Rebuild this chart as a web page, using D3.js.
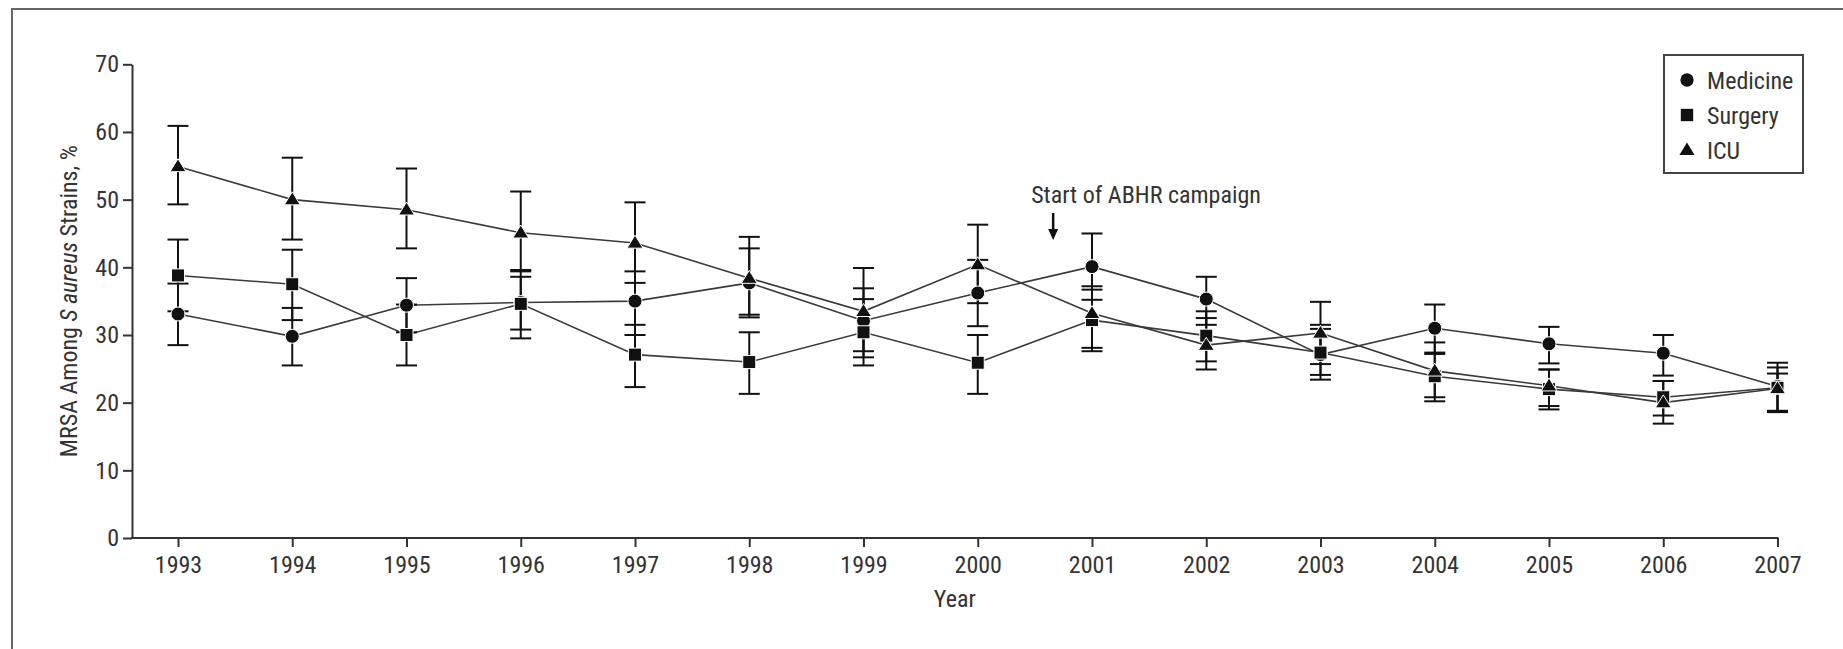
<!DOCTYPE html>
<html><head><meta charset="utf-8">
<script src="https://cdn.jsdelivr.net/npm/d3@7/dist/d3.min.js"></script>
<style>
body{margin:0;background:#fff}
svg{display:block}
text{font-family:"Liberation Sans Narrow","Arial Narrow","Roboto Condensed","Liberation Sans",sans-serif;fill:#333;font-size:24px}
</style>
</head><body>
<svg id="c" width="1843" height="649"></svg>
<script>
// ---- data ----
const years = [1993,1994,1995,1996,1997,1998,1999,2000,2001,2002,2003,2004,2005,2006,2007];
const yTicks = [0,10,20,30,40,50,60,70];
const seriesNames = ["Medicine","Surgery","ICU"];
const medicine   = [33.1,29.8,34.4,34.8,35.0,37.7,32.1,36.2,40.1,35.3,27.1,31.0,28.7,27.3,22.4];
const medicineLo = [28.5,25.5,30.4,30.8,30.0,32.6,27.6,31.3,35.2,31.5,23.4,27.2,25.8,24.0,18.8];
const medicineHi = [37.6,34.0,38.4,38.6,39.4,42.8,36.9,41.1,45.0,38.6,31.5,34.5,31.2,30.0,25.9];
const surgery    = [38.8,37.5,30.0,34.6,27.1,26.0,30.4,25.9,32.2,29.9,27.4,23.9,22.0,20.8,22.2];
const surgeryLo  = [33.5,32.2,25.5,29.5,22.3,21.3,25.5,21.3,27.6,26.1,24.1,20.2,19.0,18.1,18.7];
const surgeryHi  = [44.1,42.6,34.5,39.6,31.5,30.4,35.3,30.0,36.7,33.5,30.9,27.4,24.9,23.2,25.2];
const icu        = [54.9,50.0,48.5,45.1,43.6,38.4,33.5,40.4,33.2,28.5,30.3,24.7,22.5,20.0,22.1];
const icuLo      = [49.3,44.1,42.8,39.4,37.7,33.0,26.7,34.7,28.1,24.9,25.7,20.8,19.5,16.9,18.6];
const icuHi      = [60.9,56.2,54.6,51.2,49.6,44.5,39.9,46.3,37.2,32.5,34.9,28.9,24.9,23.2,24.3];
const campaignYear = 2000.66;
const campaignLabel = "Start of ABHR campaign";

// ---- layout ----
const svg = d3.select("#c");
const axisX = 132;
const x = d3.scaleLinear().domain([1993,2007]).range([178,1777.5]);
const y = d3.scaleLinear().domain([0,70]).range([538,64.3]);
const ink = "#333";

// frame (extends past the right/bottom edges)
svg.append("rect").attr("x",12).attr("y",9).attr("width",2000).attr("height",800)
  .attr("fill","none").attr("stroke","#666").attr("stroke-width",2);

// y axis
const gy = svg.append("g").attr("transform",`translate(${axisX},0)`)
  .call(d3.axisLeft(y).tickValues(yTicks).tickSize(9).tickSizeOuter(0).tickPadding(4));
gy.selectAll("path,line").attr("stroke",ink).attr("stroke-width",2);
gy.selectAll("text").style("font-size","24px").attr("fill",ink).attr("font-family",null);

// x axis
const gx = svg.append("g").attr("transform",`translate(0,${y(0)})`)
  .call(d3.axisBottom(x).tickValues(years).tickFormat(d3.format("d")).tickSize(9).tickSizeOuter(0).tickPadding(9));
gx.select(".domain").attr("d",`M${axisX-1},0H${x(2007)+1}`);
gx.selectAll("path,line").attr("stroke",ink).attr("stroke-width",2);
gx.selectAll("text").style("font-size","24px").attr("fill",ink).attr("font-family",null);

// axis titles
svg.append("text").attr("x",(axisX+x(2007))/2).attr("y",607).attr("text-anchor","middle").text("Year");
const yt = svg.append("text").attr("transform",`translate(77,${(y(0)+y(70))/2}) rotate(-90)`).attr("text-anchor","middle");
yt.append("tspan").text("MRSA Among ");
yt.append("tspan").attr("font-style","italic").text("S aureus");
yt.append("tspan").text(" Strains, %");

// series
const series = [
  {name:seriesNames[0], v:medicine, lo:medicineLo, hi:medicineHi, shape:"circle"},
  {name:seriesNames[1], v:surgery,  lo:surgeryLo,  hi:surgeryHi,  shape:"square"},
  {name:seriesNames[2], v:icu,      lo:icuLo,      hi:icuHi,      shape:"triangle"}
];
const line = d3.line().x((d,i)=>x(years[i])).y(d=>y(d));
series.forEach(s=>{
  svg.append("path").attr("d",line(s.v)).attr("fill","none").attr("stroke","#fff").attr("stroke-width",4);
});
series.forEach(s=>{
  svg.append("path").attr("d",line(s.v)).attr("fill","none").attr("stroke","#3a3a3a").attr("stroke-width",1.6);
});
// error bars
const cap = 10.5;
series.forEach(s=>{
  const g = svg.append("g").attr("stroke","#111").attr("stroke-width",2);
  years.forEach((yr,i)=>{
    const cx = x(yr);
    g.append("line").attr("x1",cx).attr("x2",cx).attr("y1",y(s.lo[i])).attr("y2",y(s.hi[i]));
    g.append("line").attr("x1",cx-cap).attr("x2",cx+cap).attr("y1",y(s.lo[i])).attr("y2",y(s.lo[i]));
    g.append("line").attr("x1",cx-cap).attr("x2",cx+cap).attr("y1",y(s.hi[i])).attr("y2",y(s.hi[i]));
  });
});
function marker(g, shape, cx, cy, sc){
  sc = sc||1;
  if(shape==="circle") return g.append("circle").attr("cx",cx).attr("cy",cy).attr("r",7*sc);
  if(shape==="square") return g.append("rect").attr("x",cx-6.5*sc).attr("y",cy-6.5*sc).attr("width",13*sc).attr("height",13*sc);
  const w=8*sc, h=13*sc;
  return g.append("path").attr("d",`M${cx},${cy-h*0.6}L${cx+w},${cy+h*0.4}L${cx-w},${cy+h*0.4}Z`);
}
series.forEach(s=>{
  const g = svg.append("g").attr("fill","#111").attr("stroke","#fff").attr("stroke-width",1);
  years.forEach((yr,i)=>marker(g, s.shape, x(yr), y(s.v[i])));
});

// annotation
const ax = x(campaignYear);
svg.append("text").attr("x",ax-22).attr("y",203).text(campaignLabel);
svg.append("line").attr("x1",ax).attr("x2",ax).attr("y1",213).attr("y2",232).attr("stroke","#111").attr("stroke-width",2.5);
svg.append("path").attr("d",`M${ax-5},${229}L${ax+5},${229}L${ax},${240}Z`).attr("fill","#111");

// legend
const lg = svg.append("g");
lg.append("rect").attr("x",1664).attr("y",55).attr("width",139).attr("height",118)
  .attr("fill","#fff").attr("stroke","#444").attr("stroke-width",2);
series.forEach((s,i)=>{
  const cy = 80 + i*35;
  const m = marker(lg, s.shape, 1687, cy, 0.95);
  m.attr("fill","#111");
  lg.append("text").attr("x",1707).attr("y",cy+8.5).text(s.name);
});
</script>
</body></html>
